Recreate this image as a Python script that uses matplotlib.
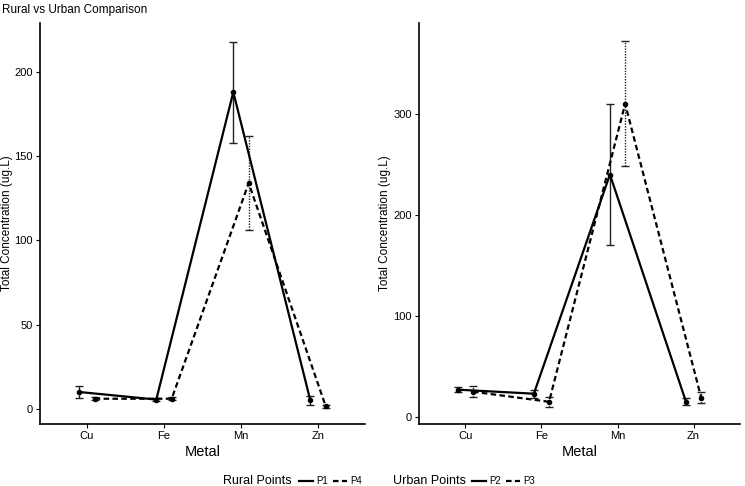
import matplotlib.pyplot as plt
from matplotlib.lines import Line2D

plt.rcParams['font.family'] = ['Liberation Sans', 'DejaVu Sans']

metals = ['Cu', 'Fe', 'Mn', 'Zn']

# rural points (left panel)
p1_mean = [10, 5.5, 188, 5]
p1_err = [3.5, 0.8, 30, 2.5]
p4_mean = [6, 6, 134, 1.5]
p4_err = [1, 1, 28, 0.8]

# urban points (right panel)
p2_mean = [27, 23, 240, 15]
p2_err = [2.5, 4, 70, 3.5]
p3_mean = [25, 15, 310, 19]
p3_err = [5.5, 5, 62, 5.5]

fig = plt.figure(figsize=(7.45, 4.86), dpi=100)
ax1 = fig.add_axes([40 / 745, 1 - 424 / 486, 325 / 745, 401 / 486])
ax2 = fig.add_axes([419 / 745, 1 - 424 / 486, 321 / 745, 401 / 486])

xs = list(range(1, len(metals) + 1))


def draw(ax, m_a, e_a, m_b, e_b, ylim, yticks, ylab_x):
    xa = [x - 0.1 for x in xs]
    xb = [x + 0.1 for x in xs]
    ax.errorbar(xa, m_a, yerr=e_a, fmt='none', ecolor='#222222', elinewidth=1,
                capsize=3, capthick=1)
    eb = ax.errorbar(xb, m_b, yerr=e_b, fmt='none', ecolor='#222222', elinewidth=1,
                     capsize=3, capthick=1)
    for c in eb[2]:
        c.set_linestyle((0, (1, 1)))
    ax.plot(xa, m_a, color='black', lw=1.6, marker='o', ms=3)
    ax.plot(xb, m_b, color='black', lw=1.6, ls=(0, (2.5, 1.5)), marker='o', ms=3)
    ax.set_xlim(0.39, 4.61)
    ax.set_ylim(*ylim)
    ax.set_xticks(xs)
    ax.set_xticklabels(metals)
    ax.set_yticks(yticks)
    for s in ['top', 'right']:
        ax.spines[s].set_visible(False)
    for s in ['left', 'bottom']:
        ax.spines[s].set_linewidth(1.2)
    ax.tick_params(labelsize=8, length=3, width=0.8, pad=2, colors='black')
    ax.set_xlabel('Metal', fontsize=10.5, labelpad=3)
    ax.set_ylabel('Total Concentration (ug.L)', fontsize=8.5)
    ax.yaxis.set_label_coords(ylab_x, 0.5)


draw(ax1, p1_mean, p1_err, p4_mean, p4_err, (-9, 229), [0, 50, 100, 150, 200],
     (13 - 40) / 325)
draw(ax2, p2_mean, p2_err, p3_mean, p3_err, (-7, 390), [0, 100, 200, 300],
     (391 - 419) / 321)

fig.text(2 / 745, 1 - 10 / 486, 'Rural vs Urban Comparison', fontsize=8.5, va='center')

# legends
fig.text(223 / 745, 1 - 481 / 486, 'Rural Points', fontsize=9, va='center')
fig.text(393 / 745, 1 - 481 / 486, 'Urban Points', fontsize=9, va='center')
h_solid = Line2D([], [], color='black', lw=1.6)
h_dash = Line2D([], [], color='black', lw=1.6, ls=(0, (2.5, 1.5)))
for x0, labels in [(299, ['P1', 'P4']), (472, ['P2', 'P3'])]:
    fig.legend([h_solid, h_dash], labels, loc='center left',
               bbox_to_anchor=(x0 / 745, 1 - 481 / 486), ncol=2, frameon=False,
               fontsize=7, handlelength=1.4, handletextpad=0.4, columnspacing=0.5,
               borderpad=0, borderaxespad=0)

fig.savefig('out.png', dpi=100)
